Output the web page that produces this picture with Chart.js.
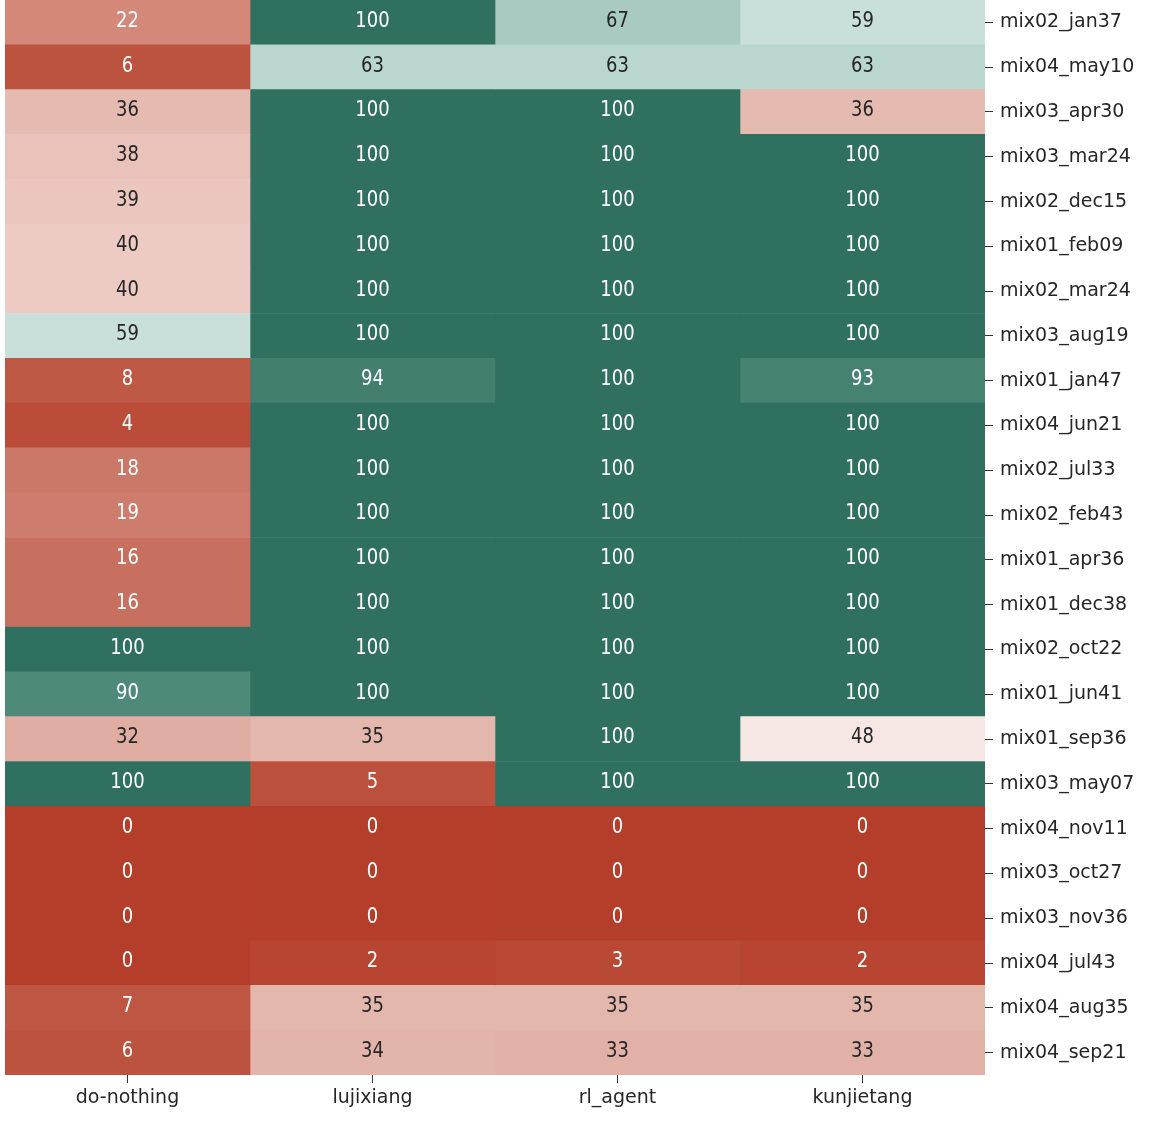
<!DOCTYPE html>
<html>
<head>
<meta charset="utf-8">
<script src="https://cdn.jsdelivr.net/npm/chart.js@4"></script>
<style>
  body { margin: 0; background: #fff; }
  #wrap { width: 1152px; height: 1125px; }
</style>
</head>
<body>
<div id="wrap"><canvas id="heat"></canvas></div>
<script>
const columns = ['do-nothing', 'lujixiang', 'rl_agent', 'kunjietang'];

const rows = [
    'mix02_jan37', 'mix04_may10', 'mix03_apr30', 'mix03_mar24', 'mix02_dec15', 'mix01_feb09',
    'mix02_mar24', 'mix03_aug19', 'mix01_jan47', 'mix04_jun21', 'mix02_jul33', 'mix02_feb43',
    'mix01_apr36', 'mix01_dec38', 'mix02_oct22', 'mix01_jun41', 'mix01_sep36', 'mix03_may07',
    'mix04_nov11', 'mix03_oct27', 'mix03_nov36', 'mix04_jul43', 'mix04_aug35', 'mix04_sep21'
];

// one array per column, top row first
const doNothing  = [22, 6, 36, 38, 39, 40, 40, 59, 8, 4, 18, 19, 16, 16, 100, 90, 32, 100, 0, 0, 0, 0, 7, 6];
const lujixiang  = [100, 63, 100, 100, 100, 100, 100, 100, 94, 100, 100, 100, 100, 100, 100, 100, 35, 5, 0, 0, 0, 2, 35, 34];
const rlAgent    = [67, 63, 100, 100, 100, 100, 100, 100, 100, 100, 100, 100, 100, 100, 100, 100, 100, 100, 0, 0, 0, 3, 35, 33];
const kunjietang = [59, 63, 36, 100, 100, 100, 100, 100, 93, 100, 100, 100, 100, 100, 100, 100, 48, 100, 0, 0, 0, 2, 35, 33];

const values = [doNothing, lujixiang, rlAgent, kunjietang];

// colour stops (red -> light -> green)
const stops = [
    [0, '#b53e2b'], [6, '#bc533f'], [16, '#c8705f'], [22, '#d3887a'], [32, '#e0ada2'],
    [36, '#e5bab1'], [40, '#edcac3'], [48, '#f6e7e4'], [53, '#eaf1ef'], [59, '#c9e0da'],
    [63, '#b9d6cf'], [67, '#a8cac2'], [90, '#4d8a7a'], [94, '#437f6f'], [100, '#2f7060']
];

function hex2rgb(h) {
    return [parseInt(h.slice(1, 3), 16), parseInt(h.slice(3, 5), 16), parseInt(h.slice(5, 7), 16)];
}

function cellColor(v) {
    for (let i = 1; i < stops.length; i++) {
        if (v <= stops[i][0]) {
            const a = stops[i - 1], b = stops[i];
            const t = (v - a[0]) / (b[0] - a[0]);
            const ca = hex2rgb(a[1]), cb = hex2rgb(b[1]);
            const c = ca.map((x, k) => Math.round(x + (cb[k] - x) * t));
            return 'rgb(' + c.join(',') + ')';
        }
    }
    return stops[stops.length - 1][1];
}

function textColor(v) {
    return (v <= 25 || v >= 80) ? '#ffffff' : '#262626';
}

const datasets = columns.map((name, c) => ({
    label: name,
    data: rows.map(() => [c, c + 1]),
    backgroundColor: values[c].map(cellColor),
    borderWidth: 0,
    borderSkipped: false,
    barPercentage: 1,
    categoryPercentage: 1,
    grouped: false,
    xAxisID: 'x'
}));

// numbers in the cells, a little taller than wide like the original
const cellLabels = {
    id: 'cellLabels',
    afterDatasetsDraw(chart) {
        const ctx = chart.ctx;
        chart.data.datasets.forEach((ds, c) => {
            chart.getDatasetMeta(c).data.forEach((bar, r) => {
                const v = values[c][r];
                ctx.save();
                ctx.translate((bar.x + bar.base) / 2, bar.y - 1);
                ctx.scale(1, 1.15);
                ctx.font = '18px "DejaVu Sans"';
                ctx.textAlign = 'center';
                ctx.textBaseline = 'middle';
                ctx.fillStyle = textColor(v);
                ctx.fillText(String(v), 0, 0);
                ctx.restore();
            });
        });
    }
};

new Chart(document.getElementById('heat').getContext('2d'), {
    type: 'bar',
    data: { labels: rows, datasets: datasets },
    plugins: [cellLabels],
    options: {
        indexAxis: 'y',
        responsive: true,
        maintainAspectRatio: false,
        devicePixelRatio: 1,
        animation: false,
        layout: { padding: { left: 5, top: 0, right: 0, bottom: 0 } },
        plugins: { legend: { display: false }, tooltip: { enabled: false } },
        scales: {
            x: { type: 'linear', min: 0, max: 4, display: false },
            cols: {
                type: 'category',
                labels: columns,
                position: 'bottom',
                offset: true,
                border: { display: false },
                grid: { offset: false, drawOnChartArea: false, drawTicks: true, tickLength: 8, color: '#333' },
                ticks: { color: '#262626', font: { family: 'DejaVu Sans', size: 19 }, padding: 4, maxRotation: 0 },
                afterFit(scale) { scale.height = 50; scale.paddingLeft = 0; scale.paddingRight = 0; }
            },
            y: {
                type: 'category',
                position: 'right',
                offset: true,
                border: { display: false },
                grid: { offset: false, drawOnChartArea: false, drawTicks: true, tickLength: 8, color: '#333' },
                ticks: { color: '#262626', font: { family: 'DejaVu Sans', size: 19 }, padding: 7, autoSkip: false },
                afterFit(scale) { scale.width = 167; scale.paddingTop = 0; scale.paddingBottom = 0; }
            }
        }
    }
});
</script>
</body>
</html>
